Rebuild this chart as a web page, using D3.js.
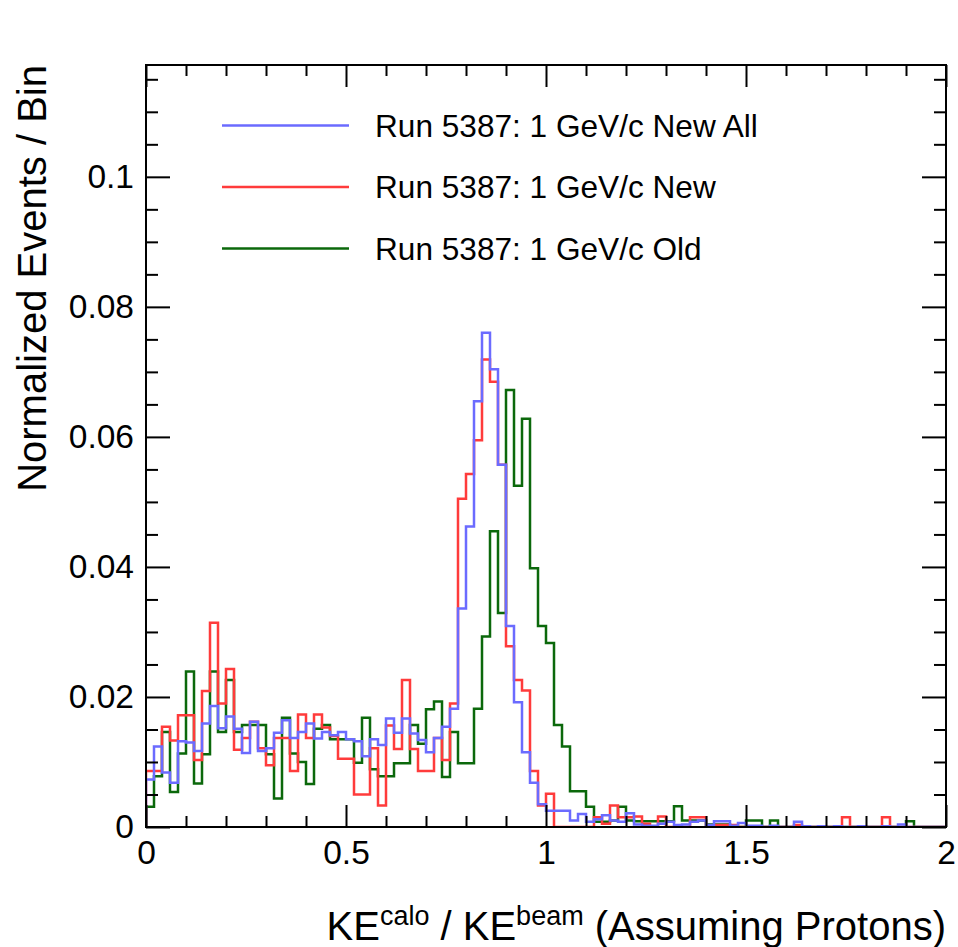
<!DOCTYPE html>
<html>
<head>
<meta charset="utf-8">
<script src="https://cdn.jsdelivr.net/npm/d3@7"></script>
<style>
  html, body { margin: 0; padding: 0; background: #fff; }
  svg { display: block; }
  text { font-family: "Liberation Sans", Arial, Helvetica, sans-serif; fill: #000; }
</style>
</head>
<body>
<svg id="chart" width="958" height="947"></svg>
<script>
// ---------------- data ----------------
const xRange = [0, 2];
const nBins = 100;
const yMax = 0.1172;

const seriesNames = [
  "Run 5387: 1 GeV/c New All",
  "Run 5387: 1 GeV/c New",
  "Run 5387: 1 GeV/c Old"
];
const seriesColors = ["#6b6bff", "#ff3b3b", "#0b680b"];

const newAll = [
  0.0073, 0.0124, 0.0084, 0.0068, 0.0132, 0.0130, 0.0117, 0.0159, 0.0186, 0.0152,
  0.0170, 0.0151, 0.0114, 0.0162, 0.0117, 0.0121, 0.0145, 0.0164, 0.0137, 0.0146,
  0.0159, 0.0136, 0.0146, 0.0141, 0.0146, 0.0135, 0.0132, 0.0109, 0.0135, 0.0126,
  0.0167, 0.0145, 0.0167, 0.0144, 0.0134, 0.0115, 0.0137, 0.0154, 0.0182, 0.0336,
  0.0462, 0.0655, 0.0760, 0.0704, 0.0557, 0.0309, 0.0192, 0.0115, 0.0068, 0.0035,
  0.0025, 0.0025, 0.0025, 0.0010, 0.0020, 0.0008, 0.0012, 0.0018, 0.0010, 0.0008,
  0.0021, 0.0004, 0.0002, 0.0002, 0.0005, 0.0008, 0.0003, 0.0004, 0.0008, 0.0010,
  0.0003, 0.0009, 0.0009, 0.0002, 0.0006, 0.0002, 0.0002, 0.0000, 0.0002, 0.0000,
  0.0000, 0.0008, 0.0001, 0.0000, 0.0001, 0.0000, 0.0001, 0.0000, 0.0000, 0.0001,
  0.0000, 0.0000, 0.0001, 0.0000, 0.0004, 0.0000, 0.0000, 0.0000, 0.0000, 0.0000
];

const newSel = [
  0.0086, 0.0086, 0.0154, 0.0133, 0.0172, 0.0172, 0.0103, 0.0209, 0.0314, 0.0190,
  0.0243, 0.0119, 0.0137, 0.0162, 0.0121, 0.0095, 0.0137, 0.0137, 0.0086, 0.0173,
  0.0137, 0.0173, 0.0153, 0.0140, 0.0105, 0.0105, 0.0050, 0.0050, 0.0121, 0.0033,
  0.0156, 0.0120, 0.0226, 0.0120, 0.0086, 0.0086, 0.0137, 0.0103, 0.0190, 0.0505,
  0.0543, 0.0595, 0.0719, 0.0685, 0.0557, 0.0278, 0.0226, 0.0210, 0.0086, 0.0033,
  0.0051, 0.0000, 0.0000, 0.0000, 0.0000, 0.0000, 0.0015, 0.0005, 0.0033, 0.0015,
  0.0015, 0.0016, 0.0005, 0.0000, 0.0016, 0.0000, 0.0000, 0.0000, 0.0015, 0.0015,
  0.0000, 0.0003, 0.0003, 0.0003, 0.0000, 0.0000, 0.0000, 0.0000, 0.0000, 0.0000,
  0.0000, 0.0003, 0.0000, 0.0000, 0.0000, 0.0000, 0.0000, 0.0015, 0.0000, 0.0000,
  0.0000, 0.0000, 0.0015, 0.0000, 0.0000, 0.0000, 0.0000, 0.0000, 0.0000, 0.0000
];

const oldSel = [
  0.0031, 0.0078, 0.0146, 0.0054, 0.0113, 0.0239, 0.0067, 0.0112, 0.0239, 0.0146,
  0.0226, 0.0146, 0.0157, 0.0157, 0.0157, 0.0112, 0.0044, 0.0168, 0.0113, 0.0100,
  0.0066, 0.0151, 0.0157, 0.0135, 0.0135, 0.0135, 0.0099, 0.0168, 0.0089, 0.0078,
  0.0078, 0.0098, 0.0098, 0.0157, 0.0128, 0.0181, 0.0193, 0.0077, 0.0146, 0.0098,
  0.0098, 0.0182, 0.0293, 0.0455, 0.0329, 0.0672, 0.0525, 0.0628, 0.0398, 0.0309,
  0.0283, 0.0157, 0.0124, 0.0055, 0.0055, 0.0031, 0.0008, 0.0008, 0.0010, 0.0031,
  0.0010, 0.0009, 0.0009, 0.0009, 0.0009, 0.0009, 0.0032, 0.0010, 0.0010, 0.0010,
  0.0004, 0.0004, 0.0004, 0.0000, 0.0000, 0.0010, 0.0010, 0.0000, 0.0010, 0.0000,
  0.0000, 0.0000, 0.0000, 0.0000, 0.0000, 0.0000, 0.0000, 0.0000, 0.0000, 0.0000,
  0.0000, 0.0000, 0.0000, 0.0000, 0.0000, 0.0009, 0.0000, 0.0000, 0.0000, 0.0000
];

const xMajorTicks = [0, 0.5, 1, 1.5, 2];
const xTickLabels = ["0", "0.5", "1", "1.5", "2"];
const yMajorTicks = [0, 0.02, 0.04, 0.06, 0.08, 0.1];
const yTickLabels = ["0", "0.02", "0.04", "0.06", "0.08", "0.1"];

const xTitleParts = ["KE", "calo", " / KE", "beam", " (Assuming Protons)"];
const yTitle = "Normalized Events / Bin";

// ---------------- layout ----------------
const svg = d3.select("#chart");
const L = 146, R = 946, T = 65, B = 827;

const x = d3.scaleLinear().domain(xRange).range([L, R]);
const y = d3.scaleLinear().domain([0, yMax]).range([B, T]);

const binW = (xRange[1] - xRange[0]) / nBins;
const edges = d3.range(nBins).map(i => xRange[0] + i * binW);

const xMinor = d3.range(0, 21).map(i => i * 0.1).filter(v => !xMajorTicks.some(m => Math.abs(m - v) < 1e-9));
const yMinor = d3.range(0, 24).map(i => i * 0.005).filter(v => v <= yMax && !yMajorTicks.some(m => Math.abs(m - v) < 1e-9));

svg.append("defs").append("clipPath").attr("id", "plotclip")
  .append("rect").attr("x", L).attr("y", T - 1).attr("width", R - L).attr("height", B - T + 1);

// ---------------- histograms ----------------
const line = d3.line().x(d => x(d[0])).y(d => y(d[1])).curve(d3.curveStepAfter);
function histPoints(vals) {
  const pts = [[xRange[0], 0]];
  vals.forEach((v, i) => pts.push([edges[i], v]));
  pts.push([xRange[1], vals[vals.length - 1]]);
  pts.push([xRange[1], 0]);
  return pts;
}
const series = [oldSel, newSel, newAll];
const colorsDrawOrder = [seriesColors[2], seriesColors[1], seriesColors[0]];
const gh = svg.append("g").attr("clip-path", "url(#plotclip)");
series.forEach((vals, k) => {
  gh.append("path")
    .attr("d", line(histPoints(vals)))
    .attr("fill", "none")
    .attr("stroke", colorsDrawOrder[k])
    .attr("stroke-width", 2.5)
    .attr("stroke-linejoin", "miter");
});

// ---------------- axes ----------------
const fs = 33.5;
function styleAxis(g) {
  g.select(".domain").remove();
  g.selectAll("line").attr("stroke", "#000").attr("stroke-width", 2);
  g.selectAll("text").style("font-size", fs + "px").style("font-family", "'Liberation Sans', Arial, sans-serif");
}
// bottom
svg.append("g").attr("transform", `translate(0,${B})`)
  .call(d3.axisBottom(x).tickValues(xMajorTicks).tickSize(-22).tickPadding(13)
    .tickFormat((d, i) => xTickLabels[i]))
  .call(styleAxis);
svg.append("g").attr("transform", `translate(0,${B})`)
  .call(d3.axisBottom(x).tickValues(xMinor).tickSize(-11).tickFormat(""))
  .call(styleAxis);
// top
svg.append("g").attr("transform", `translate(0,${T})`)
  .call(d3.axisTop(x).tickValues(xMajorTicks).tickSize(-22).tickFormat(""))
  .call(styleAxis);
svg.append("g").attr("transform", `translate(0,${T})`)
  .call(d3.axisTop(x).tickValues(xMinor).tickSize(-11).tickFormat(""))
  .call(styleAxis);
// left
svg.append("g").attr("transform", `translate(${L},0)`)
  .call(d3.axisLeft(y).tickValues(yMajorTicks).tickSize(-24).tickPadding(12)
    .tickFormat((d, i) => yTickLabels[i]))
  .call(styleAxis);
svg.append("g").attr("transform", `translate(${L},0)`)
  .call(d3.axisLeft(y).tickValues(yMinor).tickSize(-12).tickFormat(""))
  .call(styleAxis);
// right
svg.append("g").attr("transform", `translate(${R},0)`)
  .call(d3.axisRight(y).tickValues(yMajorTicks).tickSize(-24).tickFormat(""))
  .call(styleAxis);
svg.append("g").attr("transform", `translate(${R},0)`)
  .call(d3.axisRight(y).tickValues(yMinor).tickSize(-12).tickFormat(""))
  .call(styleAxis);

// frame
svg.append("rect").attr("x", L).attr("y", T).attr("width", R - L).attr("height", B - T)
  .attr("fill", "none").attr("stroke", "#000").attr("stroke-width", 2);

// ---------------- titles ----------------
const xt = svg.append("text").attr("x", R).attr("y", 940)
  .attr("text-anchor", "end").style("font-size", "40px");
xt.append("tspan").text(xTitleParts[0]);
xt.append("tspan").attr("dy", -15).style("font-size", "27px").text(xTitleParts[1]);
xt.append("tspan").attr("dy", 15).text(xTitleParts[2]);
xt.append("tspan").attr("dy", -15).style("font-size", "27px").text(xTitleParts[3]);
xt.append("tspan").attr("dy", 15).text(xTitleParts[4]);

svg.append("text")
  .attr("transform", `translate(46,${T}) rotate(-90)`)
  .attr("text-anchor", "end")
  .style("font-size", "40px")
  .text(yTitle);

// ---------------- legend ----------------
const legY = [125.5, 187, 248.5];
const lg = svg.append("g");
seriesNames.forEach((name, i) => {
  lg.append("line").attr("x1", 222).attr("x2", 349).attr("y1", legY[i]).attr("y2", legY[i])
    .attr("stroke", seriesColors[i]).attr("stroke-width", 2.5);
  lg.append("text").attr("x", 375).attr("y", legY[i] + 11)
    .style("font-size", "31.6px").text(name);
});
</script>
</body>
</html>
